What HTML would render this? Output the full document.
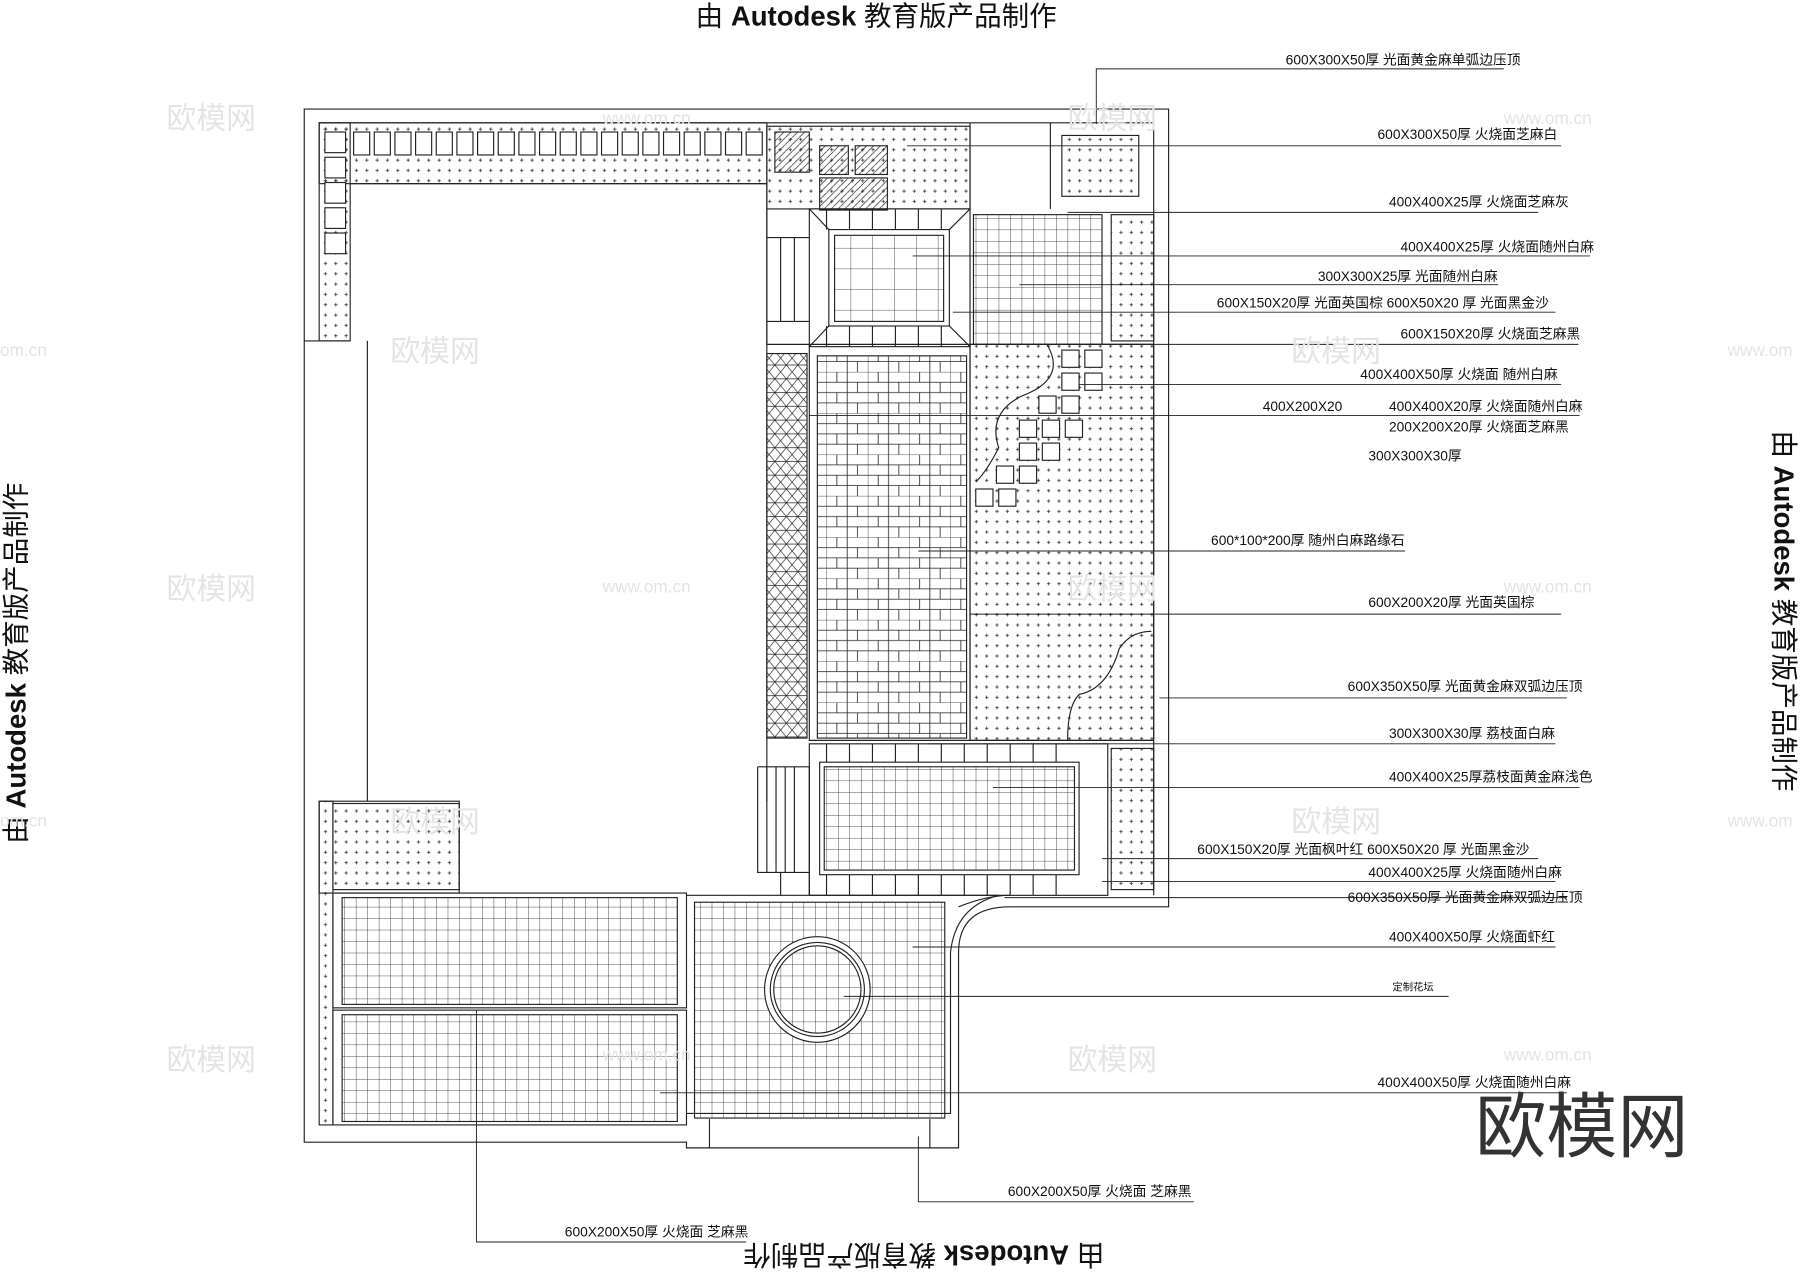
<!DOCTYPE html>
<html><head><meta charset="utf-8"><style>
html,body{margin:0;padding:0;background:#fff;}
svg{display:block}
text{font-family:"Liberation Sans","Noto Sans CJK SC",sans-serif;}
</style></head><body>
<svg width="1800" height="1273" viewBox="0 0 1568 1109" xmlns="http://www.w3.org/2000/svg">
<defs>
<pattern id="dot" width="9" height="9" patternUnits="userSpaceOnUse"><path d="M3 4.5h3M4.5 3v3" stroke="#333" stroke-width="0.7"/></pattern>
<pattern id="grid" width="10" height="10" patternUnits="userSpaceOnUse"><path d="M0 0H10M0 0V10" stroke="#222" stroke-width="0.7" fill="none"/></pattern>
<pattern id="grid2" width="19" height="18" patternUnits="userSpaceOnUse"><path d="M0 0H19M0 0V18" stroke="#222" stroke-width="0.7" fill="none"/></pattern>
<pattern id="hatch" width="6" height="6" patternUnits="userSpaceOnUse"><path d="M0 6L6 0" stroke="#222" stroke-width="0.6"/></pattern>
<pattern id="xh" width="10" height="12" patternUnits="userSpaceOnUse"><path d="M0 0L10 12M10 0L0 12M0 6H10" stroke="#222" stroke-width="0.6"/></pattern>
<pattern id="brick" width="36" height="36" patternUnits="userSpaceOnUse"><path d="M0 0H36M0 9H36M0 18H36M0 27H36M0 0V36M18 0V36M9 0V9M27 9V18M9 18V27M27 27V36" stroke="#222" stroke-width="0.7" fill="none"/></pattern>
</defs>
<g fill="none" stroke="#222" stroke-width="1">
<path d="M265 95H1018V790H880Q835 790 835 830V1000H598V995H265Z"/>
<path d="M278 107H1005V780"/>
<rect x="278" y="107" width="390" height="53" fill="url(#dot)"/>
<rect x="668" y="110" width="177" height="72" fill="url(#dot)"/>
<rect x="278" y="107" width="27" height="190" fill="url(#dot)"/>
<path d="M305 160H668V698M320 297V698M265 297H305"/>
<g fill="#fff">
<rect x="283" y="115" width="18" height="18"/><rect x="283" y="137" width="18" height="18"/><rect x="283" y="159" width="18" height="18"/><rect x="283" y="181" width="18" height="18"/><rect x="283" y="203" width="18" height="18"/>
<rect x="308" y="115" width="14" height="20"/><rect x="326" y="115" width="14" height="20"/><rect x="344" y="115" width="14" height="20"/><rect x="362" y="115" width="14" height="20"/><rect x="380" y="115" width="14" height="20"/><rect x="398" y="115" width="14" height="20"/><rect x="416" y="115" width="14" height="20"/><rect x="434" y="115" width="14" height="20"/><rect x="452" y="115" width="14" height="20"/><rect x="470" y="115" width="14" height="20"/><rect x="488" y="115" width="14" height="20"/><rect x="506" y="115" width="14" height="20"/><rect x="524" y="115" width="14" height="20"/><rect x="542" y="115" width="14" height="20"/><rect x="560" y="115" width="14" height="20"/><rect x="578" y="115" width="14" height="20"/><rect x="596" y="115" width="14" height="20"/><rect x="614" y="115" width="14" height="20"/><rect x="632" y="115" width="14" height="20"/><rect x="650" y="115" width="14" height="20"/>
</g>
<rect x="675" y="115" width="30" height="35" fill="url(#hatch)"/>
<rect x="714" y="127" width="25" height="25" fill="url(#hatch)"/><rect x="745" y="127" width="28" height="25" fill="url(#hatch)"/><rect x="714" y="155" width="59" height="28" fill="url(#hatch)"/>
<path d="M845 107V182M915 107V182"/>
<rect x="925" y="118" width="67" height="53" fill="url(#dot)"/>
<rect x="705" y="182" width="140" height="120"/>
<rect x="722" y="200" width="105" height="84"/>
<rect x="727" y="205" width="95" height="75" fill="url(#grid2)"/>
<rect x="848" y="187" width="112" height="113" fill="url(#grid)"/>
<rect x="968" y="187" width="37" height="110" fill="url(#dot)"/>
<path d="M668 182V300H1005M668 207H705M668 280H705M705 182L722 200M845 182L827 200M705 302L722 284M845 302L827 284"/>
<path d="M680 207V280M692 207V280"/>
<path d="M720 182V200M740 182V200M760 182V200M780 182V200M800 182V200M820 182V200M720 284V302M740 284V302M760 284V302M780 284V302M800 284V302M820 284V302"/>
<rect x="668" y="308" width="35" height="335" fill="url(#xh)"/>
<rect x="712" y="310" width="130" height="333" fill="url(#brick)"/>
<rect x="845" y="300" width="160" height="345" fill="url(#dot)"/>
<g fill="#fff">
<rect x="925" y="305" width="15" height="15"/><rect x="945" y="305" width="15" height="15"/><rect x="925" y="325" width="15" height="15"/><rect x="945" y="325" width="15" height="15"/>
<rect x="905" y="345" width="15" height="15"/><rect x="925" y="345" width="15" height="15"/>
<rect x="888" y="366" width="15" height="15"/><rect x="908" y="366" width="15" height="15"/><rect x="928" y="366" width="15" height="15"/>
<rect x="888" y="386" width="15" height="15"/><rect x="908" y="386" width="15" height="15"/>
<rect x="868" y="406" width="15" height="15"/><rect x="888" y="406" width="15" height="15"/>
<rect x="850" y="426" width="15" height="15"/><rect x="870" y="426" width="15" height="15"/>
</g>
<path d="M912 300Q930 330 890 345Q860 360 870 390Q860 410 850 420M1003 550Q985 550 975 565Q965 600 940 605Q930 615 930 645"/>
<path d="M705 300V645H1005M845 300V645"/>
<rect x="705" y="648" width="260" height="132"/>
<rect x="714" y="664" width="226" height="98"/>
<rect x="718" y="668" width="218" height="90" fill="url(#grid)"/>
<rect x="968" y="652" width="37" height="123" fill="url(#dot)"/>
<path d="M720 648V664M740 648V664M760 648V664M780 648V664M800 648V664M820 648V664M840 648V664M860 648V664M880 648V664M900 648V664M920 648V664M720 762V780M740 762V780M760 762V780M780 762V780M800 762V780M820 762V780M840 762V780M860 762V780M880 762V780M900 762V780M920 762V780"/>
<path d="M660 668H705V780M660 668V760H705M668 668V760M676 668V760M684 668V760M692 668V760M680 760V780"/>
<rect x="278" y="698" width="122" height="80"/>
<rect x="290" y="700" width="110" height="75" fill="url(#dot)"/>
<rect x="278" y="698" width="12" height="282" fill="url(#dot)"/>
<rect x="290" y="778" width="308" height="100"/>
<rect x="298" y="782" width="292" height="93" fill="url(#grid)"/>
<rect x="290" y="880" width="308" height="100"/>
<rect x="298" y="884" width="292" height="93" fill="url(#grid)"/>
<path d="M598 780H870Q832 790 828 830V970H598"/>
<rect x="605" y="786" width="218" height="188" fill="url(#grid)"/>
<path d="M835 790Q860 780 880 780"/>
<circle cx="712" cy="862" r="46" fill="#fff"/><circle cx="712" cy="862" r="41"/><circle cx="712" cy="862" r="38" fill="url(#grid)"/>
<path d="M618 975V1000M810 975V1000"/>
</g>
<g stroke="#222" stroke-width="0.8" fill="none">
<path d="M955 108V60H1310M790 127H1360M930 185H1340M795 223H1385M888 248H1305M830 272H1355M860 300H1375M940 335H1360M705 362H1376M1100 362H1376M800 480H1224M845 535H1360M1010 608H1365M808 648H1355M865 686H1376M960 748H1340M960 768H1355M875 782H1365M795 825H1355M735 868H1262M575 952H1365M415 880V1082H650M800 990V1047H1040"/>
</g>
<g font-size="12" fill="#111">
<text x="1120" y="56">600X300X50厚 光面黄金麻单弧边压顶</text>
<text x="1200" y="121">600X300X50厚 火烧面芝麻白</text>
<text x="1210" y="180">400X400X25厚 火烧面芝麻灰</text>
<text x="1220" y="219">400X400X25厚 火烧面随州白麻</text>
<text x="1148" y="245">300X300X25厚 光面随州白麻</text>
<text x="1060" y="268">600X150X20厚 光面英国棕 600X50X20 厚 光面黑金沙</text>
<text x="1220" y="295">600X150X20厚 火烧面芝麻黑</text>
<text x="1185" y="330">400X400X50厚 火烧面 随州白麻</text>
<text x="1100" y="358">400X200X20</text>
<text x="1210" y="358">400X400X20厚 火烧面随州白麻</text>
<text x="1210" y="376">200X200X20厚 火烧面芝麻黑</text>
<text x="1192" y="401">300X300X30厚</text>
<text x="1055" y="475">600*100*200厚 随州白麻路缘石</text>
<text x="1192" y="529">600X200X20厚 光面英国棕</text>
<text x="1174" y="602">600X350X50厚 光面黄金麻双弧边压顶</text>
<text x="1210" y="643">300X300X30厚 荔枝面白麻</text>
<text x="1210" y="681">400X400X25厚荔枝面黄金麻浅色</text>
<text x="1043" y="744">600X150X20厚 光面枫叶红 600X50X20 厚 光面黑金沙</text>
<text x="1192" y="764">400X400X25厚 火烧面随州白麻</text>
<text x="1174" y="786">600X350X50厚 光面黄金麻双弧边压顶</text>
<text x="1210" y="820">400X400X50厚 火烧面虾红</text>
<text x="1213" y="863" font-size="9">定制花坛</text>
<text x="1200" y="947">400X400X50厚 火烧面随州白麻</text>
<text x="878" y="1042">600X200X50厚 火烧面 芝麻黑</text>
<text x="492" y="1077">600X200X50厚 火烧面 芝麻黑</text>
</g>
<g font-size="24" fill="#111">
<text x="606" y="22">由 <tspan font-weight="bold">Autodesk</tspan> 教育版产品制作</text>
<text transform="translate(962,1085) rotate(180)">由 <tspan font-weight="bold">Autodesk</tspan> 教育版产品制作</text>
<text transform="translate(22,735) rotate(-90)">由 <tspan font-weight="bold">Autodesk</tspan> 教育版产品制作</text>
<text transform="translate(1546,375) rotate(90)">由 <tspan font-weight="bold">Autodesk</tspan> 教育版产品制作</text>
</g>
<g font-size="26" fill="#e4e4e4">
<text x="145" y="112">欧模网</text><text x="930" y="112">欧模网</text>
<text x="340" y="315">欧模网</text><text x="1125" y="315">欧模网</text>
<text x="145" y="522">欧模网</text><text x="930" y="522">欧模网</text>
<text x="340" y="725">欧模网</text><text x="1125" y="725">欧模网</text>
<text x="145" y="932">欧模网</text><text x="930" y="932">欧模网</text>
</g>
<g font-size="15" fill="#e4e4e4">
<text x="525" y="108">www.om.cn</text><text x="1310" y="108">www.om.cn</text>
<text x="0" y="310">om.cn</text><text x="1505" y="310">www.om</text>
<text x="525" y="516">www.om.cn</text><text x="1310" y="516">www.om.cn</text>
<text x="0" y="720">om.cn</text><text x="1505" y="720">www.om</text>
<text x="525" y="924">www.om.cn</text><text x="1310" y="924">www.om.cn</text>
</g>
<text x="1285" y="1003" font-size="62" fill="#333">欧模网</text>
</svg>
</body></html>
